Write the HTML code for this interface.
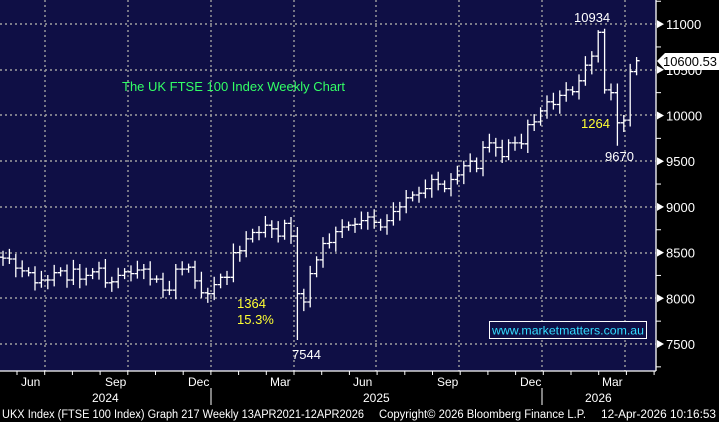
<!DOCTYPE html>
<html><head><meta charset="utf-8"><style>
html,body{margin:0;padding:0;background:#000;}
svg{display:block;font-family:"Liberation Sans",sans-serif;}
</style></head><body>
<svg id="s" width="719" height="422" viewBox="0 0 719 422" xmlns="http://www.w3.org/2000/svg">
<rect x="0" y="0" width="719" height="422" fill="#000"/>
<rect x="0" y="0" width="656" height="371" fill="#0f0f45"/>
<g stroke="#a0a0a0" stroke-width="1.4" stroke-dasharray="2,3">
<line x1="45" y1="0" x2="45" y2="371"/><line x1="128" y1="0" x2="128" y2="371"/>
<line x1="211" y1="0" x2="211" y2="371"/><line x1="294" y1="0" x2="294" y2="371"/>
<line x1="376" y1="0" x2="376" y2="371"/><line x1="459" y1="0" x2="459" y2="371"/>
<line x1="542" y1="0" x2="542" y2="371"/><line x1="625" y1="0" x2="625" y2="371"/>
<line x1="0" y1="24" x2="656" y2="24"/><line x1="0" y1="70" x2="656" y2="70"/>
<line x1="0" y1="115" x2="656" y2="115"/><line x1="0" y1="161" x2="656" y2="161"/>
<line x1="0" y1="207" x2="656" y2="207"/><line x1="0" y1="253" x2="656" y2="253"/>
<line x1="0" y1="298" x2="656" y2="298"/><line x1="0" y1="344" x2="656" y2="344"/>
</g>
<line x1="656" y1="0" x2="656" y2="371" stroke="#fff" stroke-width="1.3"/>
<line x1="0" y1="371" x2="656" y2="371" stroke="#fff" stroke-width="1.3"/>
<g id="bars" stroke="#fff" stroke-width="1.3" fill="none"></g>
<g id="yax" fill="#fff" font-size="13"></g>
<g fill="#fff" font-size="12">
<text x="21" y="386">Jun</text><text x="105" y="386">Sep</text><text x="188" y="386">Dec</text>
<text x="270" y="386">Mar</text><text x="353" y="386">Jun</text><text x="437" y="386">Sep</text>
<text x="520" y="386">Dec</text><text x="602" y="386">Mar</text>
<text x="92" y="402">2024</text><text x="363" y="402">2025</text><text x="585" y="402">2026</text>
<text x="2" y="418" font-size="11.5" textLength="362" lengthAdjust="spacingAndGlyphs">UKX Index (FTSE 100 Index) Graph 217 Weekly 13APR2021-12APR2026</text>
<text x="379" y="418" font-size="11.5" textLength="207" lengthAdjust="spacingAndGlyphs">Copyright© 2026 Bloomberg Finance L.P.</text>
<text x="601" y="418" font-size="11.5" textLength="115" lengthAdjust="spacingAndGlyphs">12-Apr-2026 10:16:53</text>
</g>
<g stroke="#fff" stroke-width="1"><line x1="211" y1="388" x2="211" y2="405"/><line x1="542" y1="388" x2="542" y2="405"/></g>
<g id="xt" stroke="#fff" stroke-width="1"></g>
<text x="122" y="91" fill="#33ff66" font-size="13" textLength="223" lengthAdjust="spacingAndGlyphs">The UK FTSE 100 Index Weekly Chart</text>
<text x="574" y="22" fill="#fff" font-size="13">10934</text>
<text x="581" y="128" fill="#ffff33" font-size="13">1264</text>
<text x="605" y="161" fill="#fff" font-size="13">9670</text>
<text x="237" y="308" fill="#ffff33" font-size="13">1364</text>
<text x="237" y="324" fill="#ffff33" font-size="13">15.3%</text>
<text x="292" y="359" fill="#fff" font-size="13">7544</text>
<rect x="489.5" y="321.5" width="157" height="17" fill="#0f0f45" stroke="#fff" stroke-width="1"/>
<text x="492" y="334.5" fill="#33ddff" font-size="12" textLength="152" lengthAdjust="spacingAndGlyphs">www.marketmatters.com.au</text>
<path d="M657,61 L665,53 L719,53 L719,70 L665,70 Z" fill="#fff"/>
<text x="663" y="66" fill="#000" font-size="13" textLength="54" lengthAdjust="spacingAndGlyphs">10600.53</text>
</svg>
<script>
var P=[8450,8440,8430,8330,8300,8280,8170,8200,8200,8280,8300,8200,8320,8210,8250,8290,8330,8170,8180,8250,8290,8270,8310,8320,8210,8210,8090,8090,8320,8320,8340,8190,8060,8050,8150,8230,8230,8500,8520,8650,8720,8720,8800,8760,8680,8820,8680,8050,7960,8270,8420,8600,8610,8730,8780,8800,8810,8850,8890,8830,8780,8850,8950,9000,9100,9130,9150,9200,9300,9250,9200,9300,9350,9450,9500,9420,9650,9700,9650,9550,9700,9700,9690,9900,9930,10050,10150,10120,10220,10280,10260,10380,10550,10650,10910,10280,10250,9920,9950,10480,10600];
function Y(p){return 344-(p-7500)*0.0914;}
var d="",n=P.length;
for(var i=1;i<n;i++){var x=3+(i-1)*6.4,o=P[i-1],c=P[i];
var h=Math.max(o,c)+40+((i*37)%5)*15,l=Math.min(o,c)-40-((i*53)%5)*15;
if(i==47){l=7544;}if(i==94){h=10934;}if(i==97){l=9670;}if(i==49){l=7900;}
d+="M"+x.toFixed(1)+","+Y(h).toFixed(1)+"V"+Y(l).toFixed(1);
d+="M"+(x-3).toFixed(1)+","+Y(o).toFixed(1)+"H"+x.toFixed(1);
d+="M"+x.toFixed(1)+","+Y(c).toFixed(1)+"H"+(x+3).toFixed(1);}
var ns="http://www.w3.org/2000/svg";
var pth=document.createElementNS(ns,"path");pth.setAttribute("d",d);document.getElementById("bars").appendChild(pth);
var ya=document.getElementById("yax");var s="";
[11000,10500,10000,9500,9000,8500,8000,7500].forEach(function(v){var y=Y(v);
s+='<path d="M657,'+(y-4)+' L664,'+y+' L657,'+(y+4)+'Z"/>';
s+='<text x="666" y="'+(y+5)+'">'+v+'</text>';});
for(var v=7250;v<=11250;v+=500){var y=Y(v);s+='<rect x="656" y="'+(y-0.5)+'" width="5" height="1"/>';}
ya.innerHTML=s;
var xt="";for(var k=0;k<24;k++){var x=17+k*27.7;if(x<656)xt+='<line x1="'+x+'" y1="371" x2="'+x+'" y2="375"/>';}
document.getElementById("xt").innerHTML=xt;
</script>
</body></html>
